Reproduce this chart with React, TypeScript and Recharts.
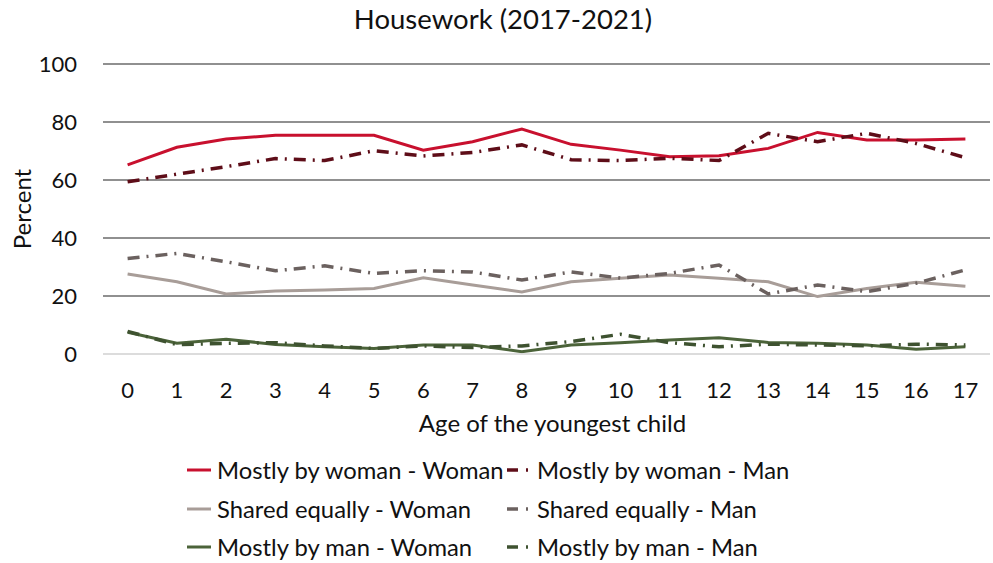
import React from 'react';
import { LineChart, Line, XAxis, YAxis, CartesianGrid } from 'recharts';

const ages = ['0','1','2','3','4','5','6','7','8','9','10','11','12','13','14','15','16','17'];
const mostlyWomanWoman = [65.2, 71.3, 74.1, 75.4, 75.4, 75.4, 70.3, 73.2, 77.6, 72.3, 70.3, 68.0, 68.4, 70.9, 76.4, 73.8, 73.8, 74.1];
const mostlyWomanMan = [59.4, 62.0, 64.6, 67.4, 66.7, 70.1, 68.3, 69.5, 72.1, 67.0, 66.7, 67.5, 66.7, 76.1, 73.2, 76.1, 72.6, 67.7];
const sharedWoman = [27.6, 24.9, 20.7, 21.7, 22.1, 22.6, 26.3, 23.8, 21.4, 24.9, 26.1, 27.2, 26.1, 24.9, 19.8, 22.6, 24.7, 23.4];
const sharedMan = [32.9, 34.7, 31.8, 28.7, 30.4, 27.8, 28.7, 28.3, 25.5, 28.3, 26.2, 27.8, 30.7, 20.7, 23.8, 21.5, 24.4, 29.0];
const mostlyManWoman = [7.5, 3.7, 5.1, 3.3, 2.5, 1.9, 3.1, 3.1, 0.8, 3.1, 3.9, 4.8, 5.6, 4.0, 3.7, 3.1, 1.6, 2.5];
const mostlyManMan = [7.8, 3.2, 3.7, 3.9, 2.8, 1.9, 2.8, 2.2, 2.8, 4.3, 6.8, 3.9, 2.5, 3.4, 3.1, 2.8, 3.4, 3.1];
const yTicks = [0, 20, 40, 60, 80, 100];

const seriesNames = [
  'Mostly by woman - Woman',
  'Mostly by woman - Man',
  'Shared equally - Woman',
  'Shared equally - Man',
  'Mostly by man - Woman',
  'Mostly by man - Man',
];

const data = ages.map((a, i) => ({
  age: a,
  mww: mostlyWomanWoman[i],
  mwm: mostlyWomanMan[i],
  sw: sharedWoman[i],
  sm: sharedMan[i],
  mmw: mostlyManWoman[i],
  mmm: mostlyManMan[i],
}));

const FONT = 'Lato, "Noto Sans", sans-serif';
const DASHDOT = '12 7 2 7';

const series = [
  { key: 'mww', name: seriesNames[0], color: '#c8102e', dash: undefined, width: 3 },
  { key: 'mwm', name: seriesNames[1], color: '#5e0d18', dash: DASHDOT, width: 3.5 },
  { key: 'sw', name: seriesNames[2], color: '#a89d98', dash: undefined, width: 3 },
  { key: 'sm', name: seriesNames[3], color: '#6b615f', dash: DASHDOT, width: 3.5 },
  { key: 'mmw', name: seriesNames[4], color: '#4b6339', dash: undefined, width: 3 },
  { key: 'mmm', name: seriesNames[5], color: '#3e5230', dash: DASHDOT, width: 3.5 },
];

function LegendItem({ s, left, top }: { s: typeof series[number]; left: number; top: number }) {
  const solid = !s.dash;
  return (
    <div style={{ position: 'absolute', left, top, display: 'flex', alignItems: 'center', height: 30 }}>
      <svg width={30} height={10} style={{ marginRight: solid ? 4 : 8 }}>
        {solid ? (
          <line x1={4} y1={5} x2={28} y2={5} stroke={s.color} strokeWidth={3} />
        ) : (
          <g>
            <line x1={8} y1={5} x2={19} y2={5} stroke={s.color} strokeWidth={3.5} />
            <line x1={27} y1={5} x2={29} y2={5} stroke={s.color} strokeWidth={3.5} />
          </g>
        )}
      </svg>
      <span style={{ fontFamily: FONT, fontSize: 23.8, color: '#111', whiteSpace: 'nowrap' }}>{s.name}</span>
    </div>
  );
}

export default function App() {
  return (
    <div style={{ position: 'absolute', left: 0, top: 0, width: 993, height: 563, background: '#fff' }}>
      <div style={{ position: 'absolute', left: 0, top: 2, width: 1006, textAlign: 'center', fontFamily: FONT, fontSize: 27.5, color: '#111' }}>
        Housework (2017-2021)
      </div>
      <LineChart width={993} height={563} data={data} margin={{ top: 64, right: 3, bottom: 119, left: 0 }}>
        <CartesianGrid horizontal vertical={false} horizontalValues={[20, 40, 60, 80, 100]} stroke="#222" strokeWidth={1.2} />
        <XAxis
          dataKey="age"
          height={90}
          axisLine={{ stroke: '#d0d0d0', strokeWidth: 1.5 }}
          tickLine={false}
          tickMargin={22}
          padding={{ left: 24.6, right: 24.6 }}
          interval={0}
          tick={{ fontFamily: FONT, fontSize: 22, fill: '#111' }}
          label={{ value: 'Age of the youngest child', position: 'insideBottom', offset: 12, dx: 6, style: { fontFamily: FONT, fontSize: 24, fill: '#111' } }}
        />
        <YAxis
          width={103}
          domain={[0, 100]}
          ticks={yTicks}
          axisLine={false}
          tickLine={false}
          tickMargin={20}
          tick={{ fontFamily: FONT, fontSize: 22, fill: '#111' }}
          label={{ value: 'Percent', angle: -90, position: 'insideLeft', offset: 22, style: { fontFamily: FONT, fontSize: 24, fill: '#111', textAnchor: 'middle' } }}
        />
        {series.map((s) => (
          <Line
            key={s.key}
            dataKey={s.key}
            name={s.name}
            stroke={s.color}
            strokeWidth={s.width}
            strokeDasharray={s.dash}
            dot={false}
            activeDot={false}
            isAnimationActive={false}
            type="linear"
          />
        ))}
      </LineChart>
      <LegendItem s={series[0]} left={183} top={455} />
      <LegendItem s={series[1]} left={499} top={455} />
      <LegendItem s={series[2]} left={183} top={494} />
      <LegendItem s={series[3]} left={499} top={494} />
      <LegendItem s={series[4]} left={183} top={532} />
      <LegendItem s={series[5]} left={499} top={532} />
    </div>
  );
}
